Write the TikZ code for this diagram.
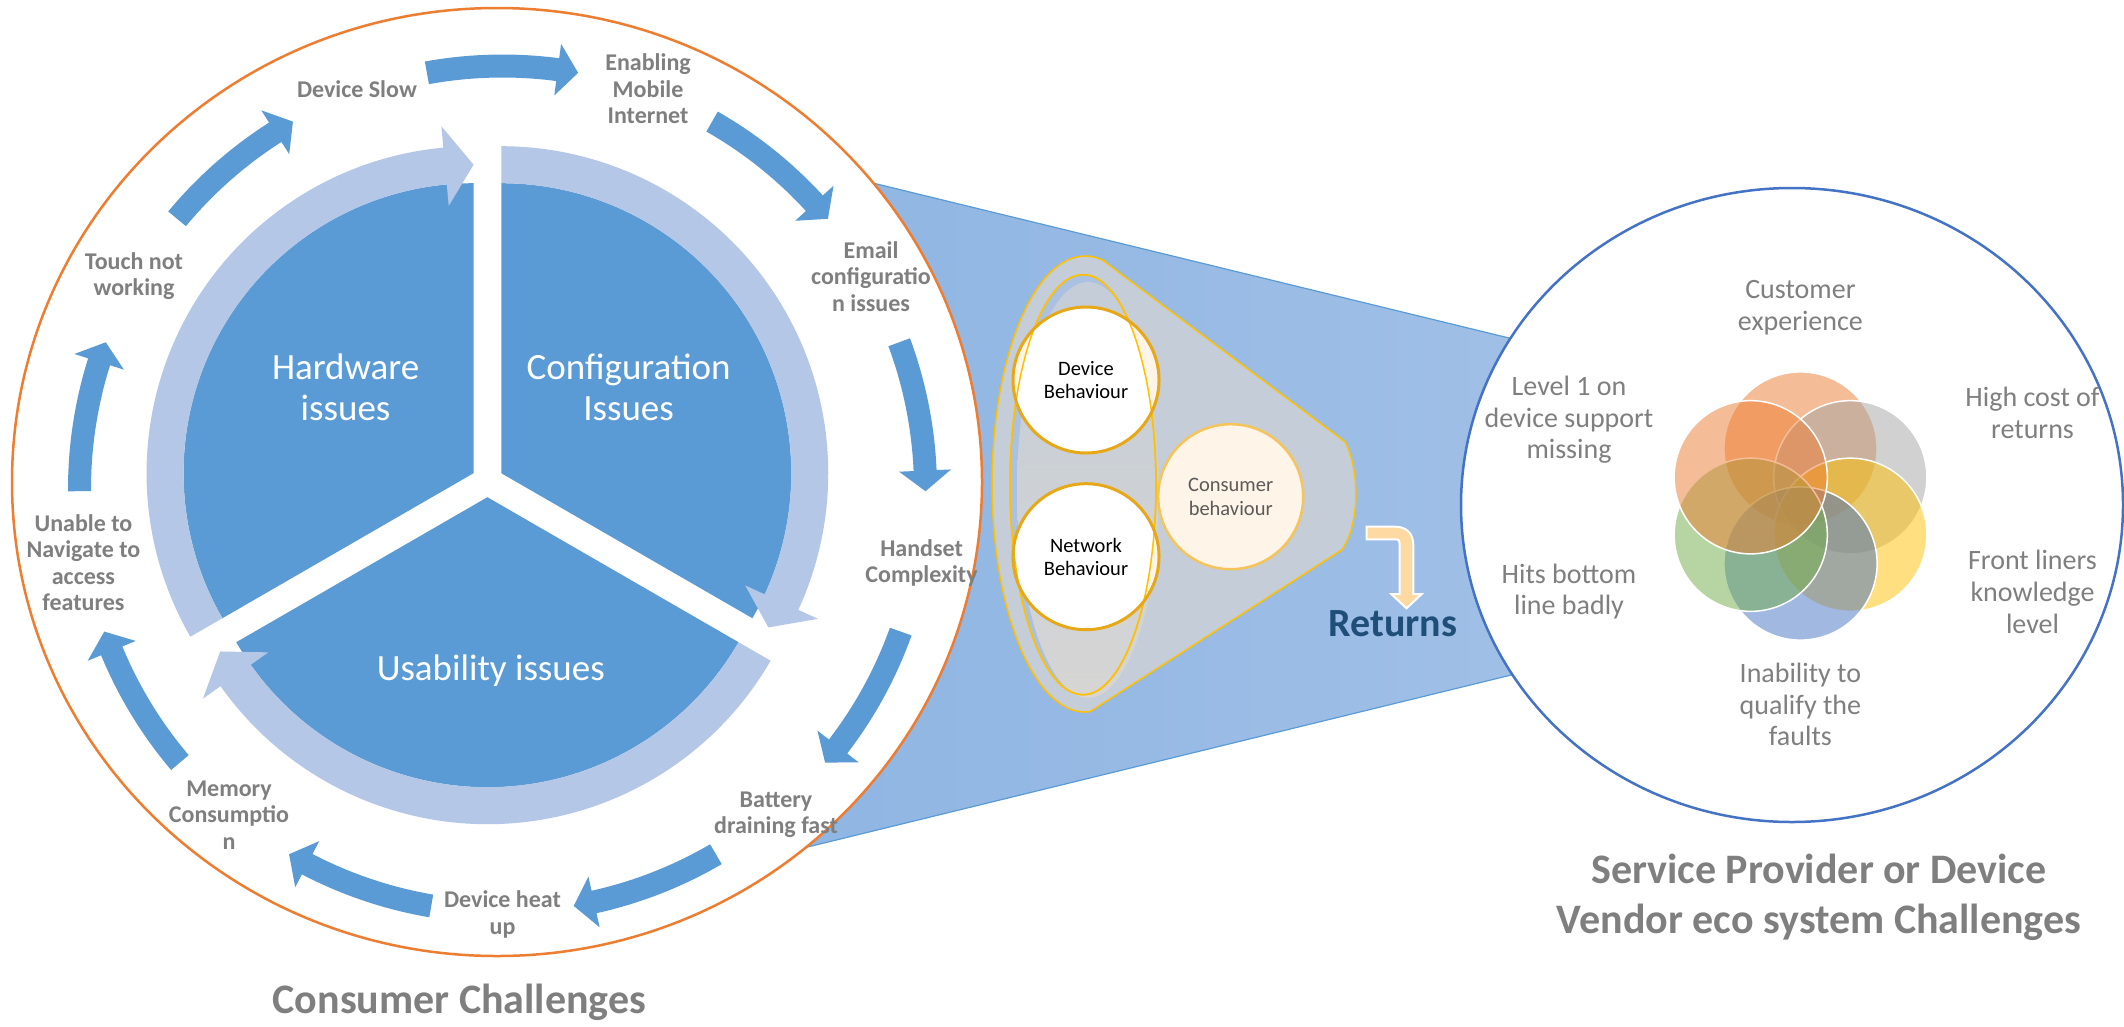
\documentclass[tikz,border=0pt]{standalone}
\usepackage{fontspec}
\setmainfont{Carlito}
\usetikzlibrary{calc}
\definecolor{dblue}{RGB}{91,155,213}
\definecolor{lblue}{RGB}{180,199,231}
\definecolor{lgray}{RGB}{127,127,127}
\definecolor{dgray}{RGB}{90,90,90}
\definecolor{orng}{RGB}{237,125,49}
\definecolor{funL}{RGB}{141,180,226}
\definecolor{funR}{RGB}{166,195,232}
\definecolor{gold}{RGB}{255,192,0}
\definecolor{dgold}{RGB}{230,168,23}
\definecolor{lgold}{RGB}{245,196,90}
\definecolor{cream}{RGB}{254,244,232}
\definecolor{conefill}{RGB}{196,205,216}
\definecolor{innerblue}{RGB}{170,193,226}
\definecolor{innerlow}{RGB}{214,213,212}
\definecolor{retfill}{RGB}{255,217,162}
\definecolor{navy}{RGB}{31,78,121}
\definecolor{rblue}{RGB}{68,114,196}
\definecolor{vorange}{RGB}{237,125,49}
\definecolor{vgray}{RGB}{165,165,165}
\definecolor{vgold}{RGB}{255,192,0}
\definecolor{vblue}{RGB}{68,114,196}
\definecolor{vgreen}{RGB}{112,173,71}
% center, start angle, head base angle, tip angle, mid radius, half shaft, half head, colour
\newcommand{\curvarrow}[8]{%
 \fill[#8] ($(#1)+(#2:#5+#6)$) arc[start angle=#2, end angle=#3, radius=#5+#6]
   -- ($(#1)+(#3:#5+#7)$) -- ($(#1)+(#4:#5)$) -- ($(#1)+(#3:#5-#7)$)
   -- ($(#1)+(#3:#5-#6)$) arc[start angle=#3, end angle=#2, radius=#5-#6] -- cycle;}
\newcommand{\outarrow}[1]{\curvarrow{C}{#1+10.3}{#1-7.5}{#1-10.3}{423}{11.5}{26}{dblue}}
\begin{document}
\begin{tikzpicture}[x=1pt,y=1pt,
  lab/.style={font=\bfseries\fontsize{24}{26.5}\selectfont, text=lgray, align=center, inner sep=0pt},
  inlab/.style={font=\fontsize{37}{41}\selectfont, text=white, align=center, inner sep=0pt},
  rlab/.style={font=\fontsize{28}{31.7}\selectfont, text=lgray, align=center, inner sep=0pt},
  title/.style={font=\bfseries\fontsize{42}{50}\selectfont, text=lgray, anchor=base, inner sep=0pt},
  bcirc/.style={circle, minimum size=146pt, inner sep=0pt, align=center, font=\fontsize{20.5}{23.5}\selectfont},
  venn/.style={draw=white, line width=1.5pt, fill opacity=0.5}]
\useasboundingbox (0,0) rectangle (2124,-1026);
% ---------------- funnel ----------------
\shade[left color=funL, right color=funR] (700,-140.9) -- (1800,-408.9) -- (1800,-604.4) -- (700,-873.3) -- cycle;
\draw[dblue, line width=1.2pt] (700,-140.9) -- (1800,-408.9) (700,-873.3) -- (1800,-604.4);
% ---------------- big circles ----------------
\draw[orng, line width=2.5pt, fill=white] (497,-482) ellipse[x radius=485, y radius=474];
\draw[rblue, line width=2.5pt, fill=white] (1792,-505) ellipse[x radius=331, y radius=317];
% ---------------- pie ----------------
\coordinate (P) at (487.4,-481.2);
\coordinate (Vh) at ($(P)+(150:16)$);
\coordinate (Vc) at ($(P)+(30:16)$);
\coordinate (Vu) at ($(P)+(270:16)$);
\fill[dblue] (Vh) -- ($(Vh)+(90:290)$) arc[start angle=90, end angle=210, radius=290] -- cycle;
\fill[dblue] (Vc) -- ($(Vc)+(-30:290)$) arc[start angle=-30, end angle=90, radius=290] -- cycle;
\fill[dblue] (Vu) -- ($(Vu)+(210:290)$) arc[start angle=210, end angle=330, radius=290] -- cycle;
\curvarrow{Vh}{210}{95.3}{90}{308.5}{18.5}{40}{lblue}
\curvarrow{Vc}{90}{-24.7}{-30}{308.5}{18.5}{40}{lblue}
\curvarrow{Vu}{330}{215.3}{210}{308.5}{18.5}{40}{lblue}
\node[inlab] (hw) at (345.6,-387) {Hardware\\issues};
\node[inlab] (cf) at (628.6,-387) {Configuration\\Issues};
\node[inlab] (us) at (490.8,-670.8) {Usability issues};
% ---------------- outer cycle ----------------
\coordinate (C) at (502.5,-489);
\outarrow{90}
\outarrow{50}
\outarrow{10}
\outarrow{-30}
\outarrow{-70}
\outarrow{-110}
\outarrow{-150}
\outarrow{170}
\outarrow{130}
\node[lab] (l1) at ($(C)+(110:425.5)$) {Device Slow};
\node[lab] (l2) at ($(C)+(70:425.5)$) {Enabling\\Mobile\\Internet};
\node[lab] (l3) at ($(C)+(30:425.5)$) {Email\\configuratio\\n issues};
\node[lab] (l4) at ($(C)+(-10:425.5)$) {Handset\\Complexity};
\node[lab] (l5) at ($(C)+(-50:425.5)$) {Battery\\draining fast};
\node[lab] (l6) at ($(C)+(-90:425.5)$) {Device heat\\up};
\node[lab] (l7) at ($(C)+(-130:425.5)$) {Memory\\Consumptio\\n};
\node[lab] (l8) at ($(C)+(-170:425.5)$) {Unable to\\Navigate to\\access\\features};
\node[lab] (l9) at ($(C)+(150:425.5)$) {Touch not\\working};
\node[title] (ct) at (459.5,-1013) {Consumer Challenges};
% ---------------- cone ----------------
\filldraw[fill=conefill, draw=gold, line width=1.5pt] (1102.7,-260.2) -- (1345,-441.7)
  .. controls (1360,-470) and (1360,-525) .. (1341.7,-550) -- (1089.9,-711.7)
  arc[start angle=-87, end angle=-281, x radius=93, y radius=228] -- cycle;
\fill[innerblue] (1083,-484.7) ellipse[x radius=73, y radius=210];
\shade[top color=conefill, bottom color=innerlow] (1088,-490) ellipse[x radius=71, y radius=208];
\draw[gold, line width=1.5pt] (1083,-484.7) ellipse[x radius=73, y radius=210];
% behaviour circles
\foreach \cy in {-380,-556.7}{
  \fill[cream] (1086,\cy) circle[radius=73];
  \begin{scope}
    \clip (1086,\cy) circle[radius=73];
    \fill[white] (1083,-484.7) ellipse[x radius=73, y radius=210];
  \end{scope}
}
\draw[gold, line width=1.5pt] (1083,-484.7) ellipse[x radius=73, y radius=210];
\node[bcirc, draw=dgold, line width=3pt] (dev) at (1086,-380) {Device\\Behaviour};
\node[bcirc, draw=dgold, line width=3pt] (net) at (1086,-556.7) {Network\\Behaviour};
\node[bcirc, minimum size=145pt, draw=lgold, fill=cream, line width=2.5pt, text=dgray] (con) at (1230.7,-496.7) {Consumer\\behaviour};
% returns arrow
\filldraw[fill=retfill, draw=white, line width=2pt] (1366.7,-526.7) -- (1395,-526.7)
  .. controls (1406,-526.7) and (1413.3,-533) .. (1413.3,-545) -- (1413.3,-594)
  -- (1421.7,-594) -- (1406.5,-608.3) -- (1391.3,-594) -- (1399.5,-594) -- (1399.5,-543)
  .. controls (1399.5,-540.5) and (1398.5,-539.3) .. (1396.5,-539.3) -- (1366.7,-539.3) -- cycle;
\node[anchor=base, inner sep=0pt, font=\bfseries\fontsize{40}{48}\selectfont, text=navy] (ret) at (1392.7,-636.7) {Returns};
% ---------------- venn flower ----------------
\coordinate (H) at (1800.5,-506);
\filldraw[venn, fill=vorange] ($(H)+(90:57.5)$) circle[radius=76.6];
\filldraw[venn, fill=vgray] ($(H)+(30:57.5)$) circle[radius=76.6];
\filldraw[venn, fill=vgold] ($(H)+(-30:57.5)$) circle[radius=76.6];
\filldraw[venn, fill=vblue] ($(H)+(-90:57.5)$) circle[radius=76.6];
\filldraw[venn, fill=vgreen] ($(H)+(-150:57.5)$) circle[radius=76.6];
\filldraw[venn, fill=vorange] ($(H)+(150:57.5)$) circle[radius=76.6];
\node[rlab] (r1) at (1800.4,-307.6) {Customer\\experience};
\node[rlab] (r2) at (1569,-419.7) {Level 1 on\\device support\\missing};
\node[rlab] (r3) at (2032.5,-412.8) {High cost of\\returns};
\node[rlab] (r4) at (1569,-591.5) {Hits bottom\\line badly};
\node[rlab] (r5) at (2032.5,-592) {Front liners\\knowledge\\level};
\node[rlab] (r6) at (1800.4,-704.4) {Inability to\\qualify the\\faults};
\node[title] (st1) at (1819,-883) {Service Provider or Device};
\node[title] (st2) at (1819,-933) {Vendor eco system Challenges};
\end{tikzpicture}
\end{document}
